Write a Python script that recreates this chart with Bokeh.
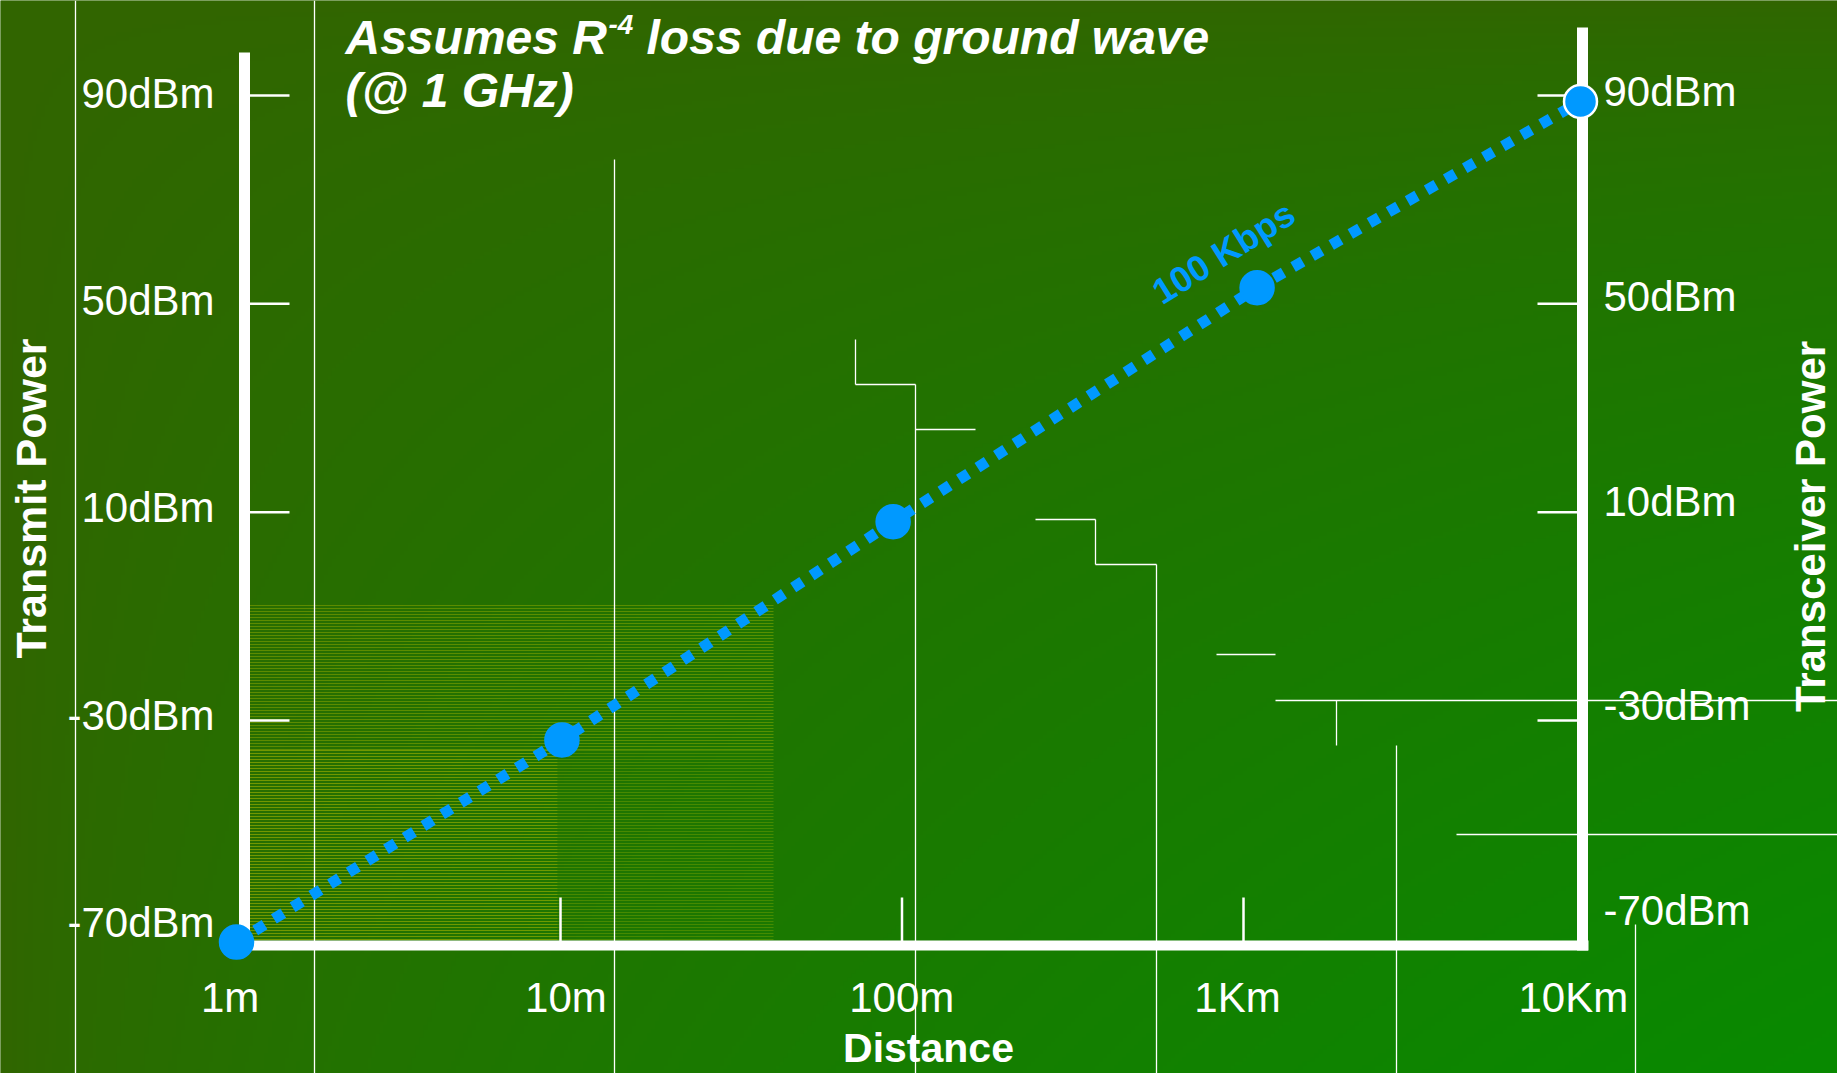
import numpy as np
from bokeh.plotting import figure
from bokeh.models import Range1d, LinearScale, LogScale, ColumnDataSource
from bokeh.core.properties import value
from bokeh.embed import file_html
from bokeh.resources import INLINE

# ---------------- data ----------------
distance_m = [1, 9.3, 90, 1090, 10000]
power_dbm = [-70, -32, 9, 53, 88]
series_label = "100 Kbps"

x_tick_values = [1, 10, 100, 1000, 10000]
x_tick_labels = ["1m", "10m", "100m", "1Km", "10Km"]
y_tick_values = [90, 50, 10, -30, -70]
y_tick_labels = ["90dBm", "50dBm", "10dBm", "-30dBm", "-70dBm"]
y_tick_marks = [90, 50, 10, -30]
x_tick_marks = [10, 100, 1000, 10000]

title_a = "Assumes R"
title_sup = "-4"
title_b = "loss due to ground wave"
title_line2 = "(@ 1 GHz)"
x_title = "Distance"
y_title_left = "Transmit Power"
y_title_right = "Transceiver Power"

# ---------------- layout ----------------
W, H = 1837, 1073
FONT = value("Liberation Sans")
BLUE = "#0099ff"
WHITE = "#ffffff"


def log_range(x_at_k, per_decade, k_ref):
    """Range (in metres) so that decade k_ref sits at pixel x_at_k."""
    k0 = k_ref - x_at_k / per_decade
    k1 = k_ref + (W - x_at_k) / per_decade
    return Range1d(10 ** k0, 10 ** k1)


def lin_range(y_at_v, per_unit, v_ref):
    """Range (in dBm) so that v_ref sits at pixel y_at_v from the top."""
    return Range1d(v_ref - (H - y_at_v) / per_unit, v_ref + y_at_v / per_unit)


p = figure(width=W, height=H, x_axis_type="log",
           x_range=log_range(236, 336, 0),
           y_range=lin_range(516, 5.32, 10),
           toolbar_location=None, output_backend="svg", min_border=0,
           x_axis_location=None, y_axis_location=None)
p.grid.visible = False
p.outline_line_color = None
p.background_fill_color = "#2e6a00"
p.border_fill_color = "#2e6a00"

p.extra_x_ranges = {"px": Range1d(0, W),
                    "lbl_x": log_range(901.2, 335.8, 2),
                    "tk_x": log_range(1072.25, 341.5, 2.5)}
p.extra_x_scales = {"px": LinearScale(), "lbl_x": LogScale(),
                    "tk_x": LogScale()}
p.extra_y_ranges = {
    "py": Range1d(H, 0),
    "lbl_left": lin_range(93, 5.181, 90),
    "lbl_right": lin_range(91, 5.119, 90),
    "tk_y": lin_range(407.5, 5.21, 30),
}

# ---------------- background gradient ----------------
nx, ny = 460, 269
xn = (np.arange(nx) + 0.5) / nx
yn = (np.arange(ny) + 0.5) / ny
XX, YY = np.meshgrid(xn, yn)
t = (XX * YY) ** 0.6
c0 = np.array([50, 101, 0])
c1 = np.array([8, 138, 0])
img = np.empty((ny, nx), dtype=np.uint32)
view = img.view(dtype=np.uint8).reshape((ny, nx, 4))
for i in range(3):
    view[:, :, i] = (c0[i] + (c1[i] - c0[i]) * t).astype(np.uint8)
view[:, :, 3] = 255
p.image_rgba(image=[img], x=0, y=0, dw=W, dh=H,
             x_range_name="px", y_range_name="py")

# ---------------- yellow striped zone ----------------
stripe_blocks = [(249, 773, 605, 750, 0.30), (249, 557, 750, 945, 0.42),
                 (557, 773, 750, 945, 0.22)]
for xa, xb, ya, yb, al in stripe_blocks:
    ys = np.arange(ya, yb, 3.0)
    p.segment(x0=np.full(len(ys), xa), x1=np.full(len(ys), xb), y0=ys, y1=ys,
              line_color="#dcd000", line_alpha=al, line_width=1,
              x_range_name="px", y_range_name="py")

# ---------------- decorative thin white lines ----------------
deco_v = [(75, 0, 1073), (314, 0, 1073), (614, 159, 1073), (855, 339, 384),
          (915, 384, 1073), (1095, 519, 564), (1156, 564, 1073),
          (1336, 700, 745), (1396, 745, 1073), (1635, 924, 1073)]
deco_h = [(384, 855, 915), (429, 915, 975), (519, 1035, 1095),
          (564, 1095, 1156), (654, 1216, 1275), (700, 1275, 1837),
          (834, 1456, 1837)]
p.segment(x0=[d[0] for d in deco_v], x1=[d[0] for d in deco_v],
          y0=[d[1] for d in deco_v], y1=[d[2] for d in deco_v],
          line_color=WHITE, line_width=1.3, x_range_name="px", y_range_name="py")
p.segment(x0=[d[1] for d in deco_h], x1=[d[2] for d in deco_h],
          y0=[d[0] for d in deco_h], y1=[d[0] for d in deco_h],
          line_color=WHITE, line_width=1.3, x_range_name="px", y_range_name="py")

# ---------------- axes (drawn) ----------------
p.segment(x0=[244, 1582], x1=[244, 1582], y0=[52, 27], y1=[950, 950],
          line_color=WHITE, line_width=11, x_range_name="px", y_range_name="py")
p.segment(x0=[239], x1=[1588], y0=[945], y1=[945],
          line_color=WHITE, line_width=10, x_range_name="px", y_range_name="py")

# tick marks
p.segment(x0=[249] * len(y_tick_marks), x1=[289] * len(y_tick_marks),
          y0=y_tick_marks, y1=y_tick_marks, line_color=WHITE, line_width=2.5,
          x_range_name="px", y_range_name="tk_y")
p.segment(x0=[1537] * len(y_tick_marks), x1=[1577] * len(y_tick_marks),
          y0=y_tick_marks, y1=y_tick_marks, line_color=WHITE, line_width=2.5,
          x_range_name="px", y_range_name="tk_y")
p.segment(x0=x_tick_marks, x1=x_tick_marks, y0=[897] * len(x_tick_marks),
          y1=[941] * len(x_tick_marks), line_color=WHITE, line_width=2.5,
          x_range_name="tk_x", y_range_name="py")

# tick labels
p.text(x=[214] * len(y_tick_values), y=y_tick_values, text=y_tick_labels,
       text_color=WHITE, text_font=FONT, text_font_size="42px",
       text_align="right", text_baseline="middle",
       x_range_name="px", y_range_name="lbl_left")
p.text(x=[1603] * len(y_tick_values), y=y_tick_values, text=y_tick_labels,
       text_color=WHITE, text_font=FONT, text_font_size="42px",
       text_align="left", text_baseline="middle",
       x_range_name="px", y_range_name="lbl_right")
p.text(x=x_tick_values, y=[997] * len(x_tick_values), text=x_tick_labels,
       text_color=WHITE, text_font=FONT, text_font_size="42px",
       text_align="center", text_baseline="middle",
       x_range_name="lbl_x", y_range_name="py")

# axis titles
p.text(x=[928], y=[1047], text=[x_title], text_color=WHITE, text_font=FONT,
       text_font_size="41px", text_font_style="bold", text_align="center",
       text_baseline="middle", x_range_name="px", y_range_name="py")
p.text(x=[30], y=[498], text=[y_title_left], angle=np.pi / 2,
       text_color=WHITE, text_font=FONT, text_font_size="43px",
       text_font_style="bold", text_align="center", text_baseline="middle",
       x_range_name="px", y_range_name="py")
p.text(x=[1810], y=[526], text=[y_title_right], angle=np.pi / 2,
       text_color=WHITE, text_font=FONT, text_font_size="42px",
       text_font_style="bold", text_align="center", text_baseline="middle",
       x_range_name="px", y_range_name="py")

# chart title
p.text(x=[345], y=[37], text=[title_a], text_color=WHITE, text_font=FONT,
       text_font_size="48px", text_font_style="bold italic",
       text_baseline="alphabetic", x_range_name="px", y_range_name="py")
p.text(x=[608], y=[24], text=[title_sup], text_color=WHITE, text_font=FONT,
       text_font_size="28px", text_font_style="bold italic",
       text_baseline="alphabetic", x_range_name="px", y_range_name="py")
p.text(x=[646], y=[37], text=[title_b], text_color=WHITE, text_font=FONT,
       text_font_size="48px", text_font_style="bold italic",
       text_baseline="alphabetic", x_range_name="px", y_range_name="py")
p.text(x=[345], y=[90], text=[title_line2], text_color=WHITE, text_font=FONT,
       text_font_size="48px", text_font_style="bold italic",
       text_baseline="alphabetic", x_range_name="px", y_range_name="py")

# ---------------- series ----------------
src = ColumnDataSource(dict(
    d=distance_m, v=power_dbm,
    outline=[WHITE if v == max(power_dbm) else BLUE for v in power_dbm]))
p.line(x=distance_m, y=power_dbm, line_color=BLUE, line_width=11,
       line_dash="11 11")
p.scatter(x="d", y="v", source=src, size=33, fill_color=BLUE,
          line_color="outline", line_width=2.5)
p.text(x=[1223], y=[252], text=[series_label], angle=0.56, text_color=BLUE,
       text_font=FONT, text_font_size="36px", text_font_style="bold",
       text_align="center", text_baseline="middle",
       x_range_name="px", y_range_name="py")

open("out.html", "w").write(file_html(p, INLINE))
